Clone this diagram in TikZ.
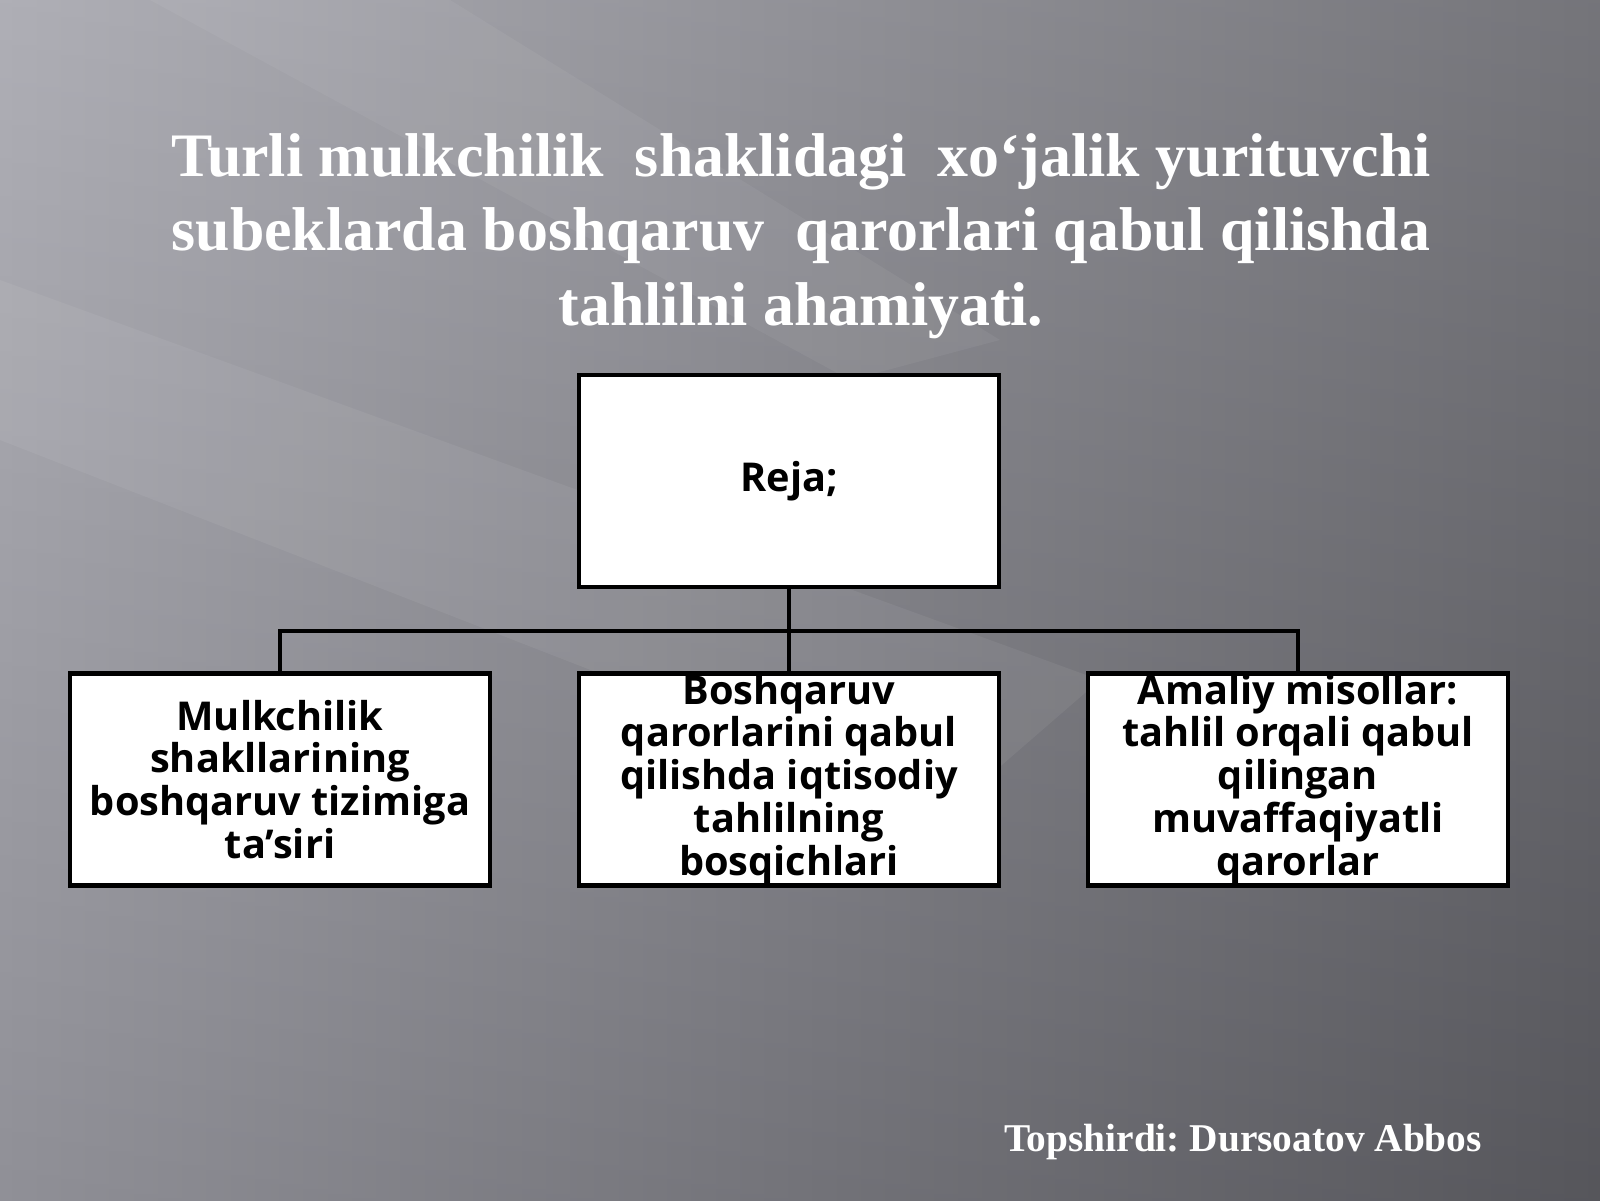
\documentclass[tikz,border=0pt]{standalone}
\usepackage{fontspec}
\setmainfont{Liberation Serif}
\newfontfamily\boxfont{Open Sans}
\usetikzlibrary{positioning,shadings}
\frenchspacing

\definecolor{bgleft}{RGB}{164,164,172}
\definecolor{bgright}{RGB}{98,98,104}

\begin{document}
\begin{tikzpicture}[box/.style={draw=black, line width=1.2pt, fill=white, minimum width=4.2cm, minimum height=2.12cm, inner sep=0pt},
  boxtext/.style={font=\boxfont\bfseries\fontsize{11.3}{12.2}\selectfont, align=center, inner sep=0pt},
  title/.style={font=\bfseries\fontsize{17.6}{21.2}\selectfont, text=white, align=center}]
\useasboundingbox (0,0) rectangle (16,12);

% background
\shade[left color=bgleft, right color=bgright] (0,0) rectangle (16,12);
\shade[top color=white, bottom color=black, opacity=0.12] (0,0) rectangle (16,12);
\fill[white, opacity=0.06] (0,9.2) -- (0,7.6) -- (9.5,3.9) -- (11,5.2) -- cycle;
\fill[white, opacity=0.05] (1.5,12) -- (4.5,12) -- (10,8.6) -- (8.5,8.2) -- cycle;

\node[title] (title) at (8.01,9.64) {Turli mulkchilik\ \ shaklidagi\ \ xo‘jalik yurituvchi\\ subeklarda boshqaruv\ \ qarorlari qabul qilishda\\ tahlilni ahamiyati.};

\node[box] (0) at (7.89,7.19) {};
\node[box] (1) at (2.80,4.205) {};
\node[box] (2) at (7.89,4.205) {};
\node[box] (3) at (12.98,4.205) {};

\coordinate (bus) at (7.89,5.69);
\draw[line width=1pt] (0) -- (bus);
\draw[line width=1pt] (1) |- (bus) -| (3);
\draw[line width=1pt] (bus) -- (2);

\node[boxtext] (0t) at (0) {Reja;};
\node[boxtext] (1t) at (1) {Mulkchilik\\ shakllarining\\ boshqaruv tizimiga\\ ta’siri};
\node[boxtext] (2t) at (2) {Boshqaruv\\ qarorlarini qabul\\ qilishda iqtisodiy\\ tahlilning\\ bosqichlari};
\node[boxtext] (3t) at (3) {Amaliy misollar:\\ tahlil orqali qabul\\ qilingan\\ muvaffaqiyatli\\ qarorlar};

\node[font=\bfseries\fontsize{11.2}{13}\selectfont, text=white] (sign) at (12.43,0.58) {Topshirdi: Dursoatov Abbos};
\end{tikzpicture}
\end{document}
